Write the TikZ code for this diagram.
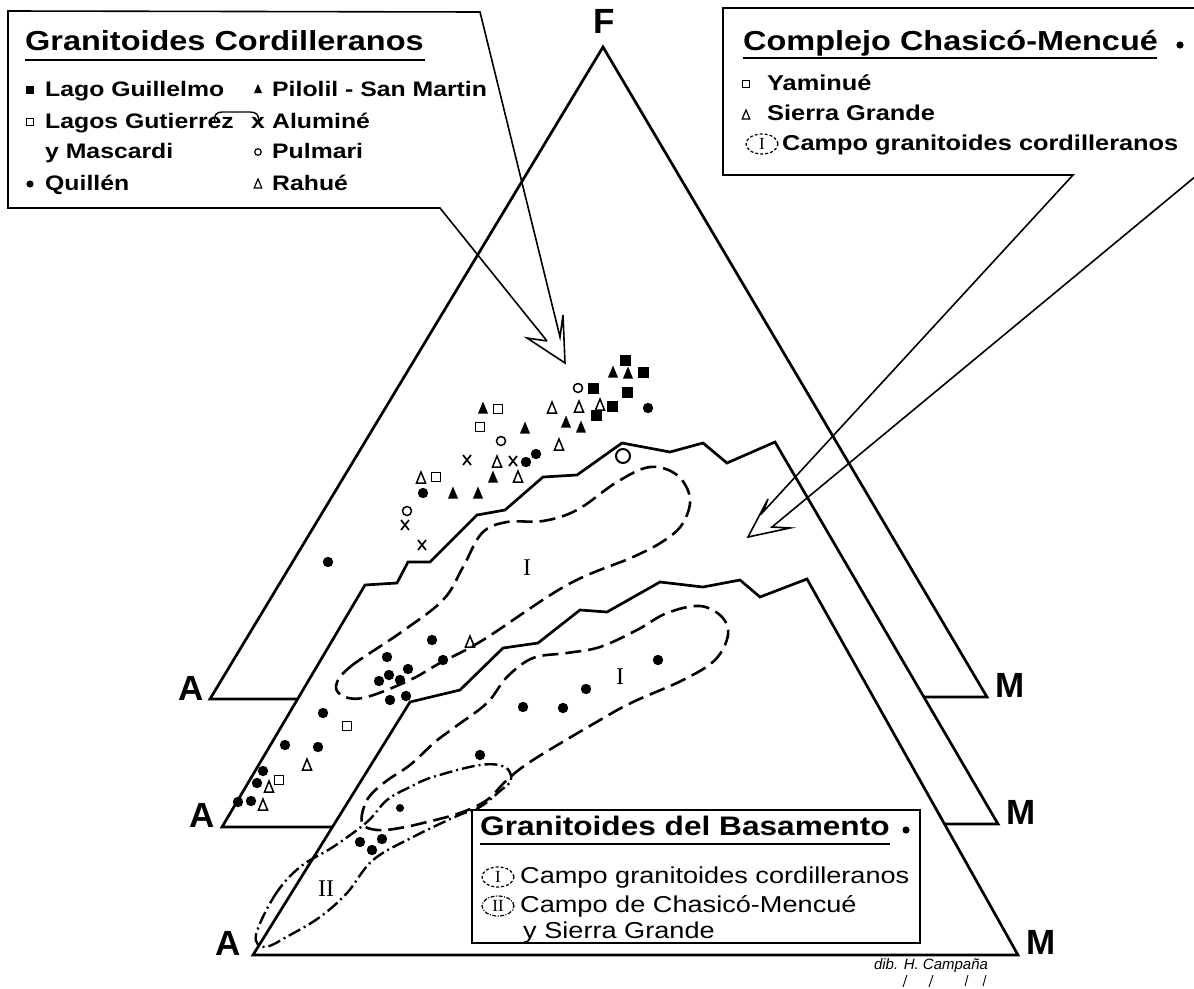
\documentclass[tikz,border=0pt]{standalone}
\usepackage{fontspec}
\setmainfont{Liberation Sans}
\newfontfamily\labfont[FakeStretch=1.18]{Liberation Sans}
\newfontfamily\romfont{Liberation Serif}
\usetikzlibrary{shapes.geometric}
\tikzset{
  tri/.style={line width=2.7pt, line join=miter},
  box/.style={line width=1.7pt, line join=miter},
  callout/.style={line width=1.6pt, line join=miter},
  fieldI/.style={line width=2.6pt, dash pattern=on 16pt off 7pt},
  fieldII/.style={line width=2.4pt, dash pattern=on 13pt off 4pt on 2pt off 4pt},
  vertexlab/.style={font=\bfseries\fontsize{35}{35}\selectfont, inner sep=0pt},
  titlelab/.style={font=\labfont\bfseries\fontsize{27.5}{27.5}\selectfont, anchor=base west, inner sep=0pt},
  itemlab/.style={font=\labfont\bfseries\fontsize{21}{21}\selectfont, anchor=base west, inner sep=0pt},
  itemlabb/.style={font=\labfont\bfseries\fontsize{21.5}{21.5}\selectfont, anchor=base west, inner sep=0pt},
  itemlabr/.style={font=\labfont\fontsize{23}{23}\selectfont, anchor=base west, inner sep=0pt},
  romlab/.style={font=\romfont\fontsize{24}{24}\selectfont, inner sep=0pt},
  fsq/.pic={\fill (-5.5pt,-5.5pt) rectangle (5.5pt,5.5pt);},
  osq/.pic={\draw[line width=1.5pt] (-4.5pt,-4.5pt) rectangle (4.5pt,4.5pt);},
  ftri/.pic={\fill (0pt,6.5pt) -- (5pt,-5.5pt) -- (-5pt,-5.5pt) -- cycle;},
  otri/.pic={\draw[line width=1.5pt] (0pt,6pt) -- (4.5pt,-5pt) -- (-4.5pt,-5pt) -- cycle;},
  fc/.pic={\fill (0,0) circle (5.2pt);},
  fcs/.pic={\fill (0,0) circle (4pt);},
  oc/.pic={\draw[line width=1.5pt] (0,0) circle (4.5pt);},
  ocbig/.pic={\draw[line width=2pt] (0,0) circle (7pt);},
  xm/.pic={\draw[line width=1.7pt] (-4pt,-5pt) -- (4pt,5pt) (-4pt,5pt) -- (4pt,-5pt);},
  sfsq/.pic={\fill (-4pt,-4pt) rectangle (4pt,4pt);},
  sosq/.pic={\draw[line width=1.3pt] (-3.5pt,-3.5pt) rectangle (3.5pt,3.5pt);},
  sftri/.pic={\fill (0pt,5pt) -- (4pt,-4pt) -- (-4pt,-4pt) -- cycle;},
  sotri/.pic={\draw[line width=1.2pt] (0pt,5pt) -- (3.8pt,-4pt) -- (-3.8pt,-4pt) -- cycle;},
  sfc/.pic={\fill (0,0) circle (3.6pt);},
  soc/.pic={\draw[line width=1.2pt] (0,0) circle (3.3pt);},
  legI/.pic={\draw[line width=1.2pt, dash pattern=on 3pt off 2pt] (0,0) ellipse (16pt and 10pt);
             \node[font=\romfont\fontsize{17}{17}\selectfont, inner sep=0pt] {I};},
  legII/.pic={\draw[line width=1.2pt, dash pattern=on 4pt off 1.5pt on 1pt off 1.5pt] (0,0) ellipse (16pt and 10pt);
             \node[font=\romfont\fontsize{17}{17}\selectfont, inner sep=0pt] {II};}
}
\begin{document}
\begin{tikzpicture}[x=1pt, y=-1pt]
\useasboundingbox (0,0) rectangle (1194,988);
\clip (0,0) rectangle (1194,988);

% ---------- triangles ----------
\draw[tri] (298,699) -- (210,699) -- (603,47) -- (987,697) -- (924,697);
\draw[tri] (332,827) -- (222,827) -- (365,585) -- (397,583) -- (408,562) -- (430,562)
  -- (477,515) -- (505,510) -- (543,477) -- (577,475) -- (622,443) -- (670,452)
  -- (703,443) -- (727,463) -- (775,442) -- (998,824) -- (945,824);
\draw[tri] (253,955) -- (410,702) -- (460,690) -- (503,648) -- (538,643) -- (580,610)
  -- (607,612) -- (660,582) -- (703,587) -- (740,580) -- (760,597) -- (807,579)
  -- (1018,955) -- cycle;

% ---------- vertex labels ----------
\node[vertexlab] (F)  at (604,21) {F};
\node[vertexlab] (A1) at (191,688) {A};
\node[vertexlab] (A2) at (202,815) {A};
\node[vertexlab] (A3) at (228,943) {A};
\node[vertexlab] (M1) at (1010,685) {M};
\node[vertexlab] (M2) at (1021,812) {M};
\node[vertexlab] (M3) at (1041,942) {M};

% ---------- fields ----------
\draw[fieldI] plot[smooth cycle, tension=0.6] coordinates {
  (336,686) (350,667) (400,633) (443,600) (463,567) (482,533) (507,522) (543,521)
  (577,510) (617,482) (650,467) (677,475) (690,498) (683,523) (665,540) (633,557)
  (567,585) (483,640) (440,663) (410,680) (367,697) (345,697)};
\node[romlab] (fI1) at (527,568) {I};

\draw[fieldI] plot[smooth cycle, tension=0.6] coordinates {
  (362,823) (367,800) (385,782) (410,765) (435,742) (455,727) (487,703) (507,677)
  (533,658) (567,653) (600,647) (637,630) (667,613) (700,606) (722,617) (728,635)
  (715,660) (683,680) (633,702) (600,720) (533,760) (507,780) (487,800) (460,813)
  (427,822) (400,828) (377,830)};
\node[romlab] (fI2) at (620,677) {I};

\draw[fieldII] plot[smooth cycle, tension=0.6] coordinates {
  (256,935) (275,895) (300,867) (333,847) (367,822) (387,800) (410,787) (433,777)
  (480,765) (505,767) (511,780) (500,791) (480,807) (457,816) (413,837) (373,860)
  (347,893) (320,917) (290,935) (265,947)};
\node[romlab] (fII) at (326,889) {II};

% ---------- data points ----------
\foreach \p in {(625,360),(643,372),(593,388),(627,392),(612,406),(596,415)} \pic at \p {fsq};
\foreach \p in {(613,372),(628,373),(483,408),(525,428),(566,422),(581,427),(493,477),(453,493),(478,493)} \pic at \p {ftri};
\foreach \p in {(552,408),(579,407),(600,405),(559,445),(497,462),(421,478),(518,477),(470,642),(307,765),(269,787),(263,805)} \pic at \p {otri};
\foreach \p in {(498,409),(480,427),(436,477),(347,726),(279,780)} \pic at \p {osq};
\foreach \p in {(578,388),(501,441),(407,511)} \pic at \p {oc};
\pic at (623,456) {ocbig};
\foreach \p in {(467,460),(513,461),(405,525),(422,545)} \pic at \p {xm};
\foreach \p in {(648,408),(526,462),(536,454),(423,493),(328,562),
  (432,640),(443,660),(387,657),(408,669),(389,675),(379,681),(400,680),(390,700),(406,696),
  (323,713),(285,745),(318,747),(263,771),(257,783),(238,802),(251,801),
  (658,660),(586,689),(523,707),(563,708),(480,755),(360,842),(382,839),(372,850)} \pic at \p {fc};
\pic at (400,808) {fcs};

% ---------- box 1 : Granitoides Cordilleranos ----------
\draw[callout] (547,341) -- (440,208) -- (8,208) -- (8,11) -- (480,12) -- (560,337)
  -- (563,315) -- (565,363) -- (527,338) -- (547,341);
\node[titlelab] (t1) at (25,50) {Granitoides Cordilleranos};
\draw[line width=1.3pt] (25,60) -- (425,60);
\pic at (30,90) {sfsq};
\node[itemlab] (lg) at (45,96) {Lago Guillelmo};
\pic at (258,89) {sftri};
\node[itemlab] (pi) at (272,96) {Pilolil - San Martin};
\pic at (30,122) {sosq};
\node[itemlab] (lgu) at (45,128) {Lagos Gutierrez};
\draw[line width=1.4pt] (215,122) .. controls (213,115) and (217,112) .. (222,112) -- (250,112)
  .. controls (256,112) and (260,115) .. (258,122);
\node[itemlab] (xa) at (251,128) {x};
\node[itemlab] (al) at (272,128) {Aluminé};
\node[itemlab] (ym) at (45,158) {y Mascardi};
\pic at (258,152) {soc};
\node[itemlab] (pu) at (272,158) {Pulmari};
\pic at (30,184) {sfc};
\node[itemlab] (qu) at (45,190) {Quillén};
\pic at (258,184) {sotri};
\node[itemlab] (ra) at (272,190) {Rahué};

% ---------- box 2 : Complejo Chasico-Mencue ----------
\draw[callout] (1200,8) -- (723,8) -- (723,175) -- (1073,175) -- (763,512) -- (768,499)
  -- (748,537) -- (790,528) -- (772,527) -- (1196,176);
\node[titlelab] (t2) at (743,50) {Complejo Chasicó-Mencué};
\draw[line width=1.3pt] (743,58) -- (1157,58);
\pic at (1180,45) {sfc};
\pic at (746,84) {sosq};
\node[itemlabb] (ya) at (767,90) {Yaminué};
\pic at (746,115) {sotri};
\node[itemlabb] (sg) at (767,120) {Sierra Grande};
\pic at (762,144) {legI};
\node[itemlabb] (cg) at (782,150) {Campo granitoides cordilleranos};

% ---------- box 3 : Granitoides del Basamento ----------
\draw[box] (472,810) rectangle (920,943);
\node[titlelab, font=\labfont\bfseries\fontsize{26.8}{26.8}\selectfont] (t3) at (480,835) {Granitoides del Basamento};
\draw[line width=1.3pt] (480,844) -- (890,844);
\pic at (906,830) {sfc};
\pic at (498,877) {legI};
\node[itemlabr] (c1) at (520,883) {Campo granitoides cordilleranos};
\pic at (498,906) {legII};
\node[itemlabr] (c2) at (520,912) {Campo de Chasicó-Mencué};
\node[itemlabr] (c3) at (523,938) {y Sierra Grande};

% ---------- signature ----------
\node[font=\itshape\fontsize{15}{15}\selectfont, inner sep=0pt] (sig) at (931,966) {dib. H. Campaña};
\draw[line width=0.9pt] (907,975) -- (903,987) (933,975) -- (929,987) (968,975) -- (965,986) (986,975) -- (983,986);
\end{tikzpicture}
\end{document}
